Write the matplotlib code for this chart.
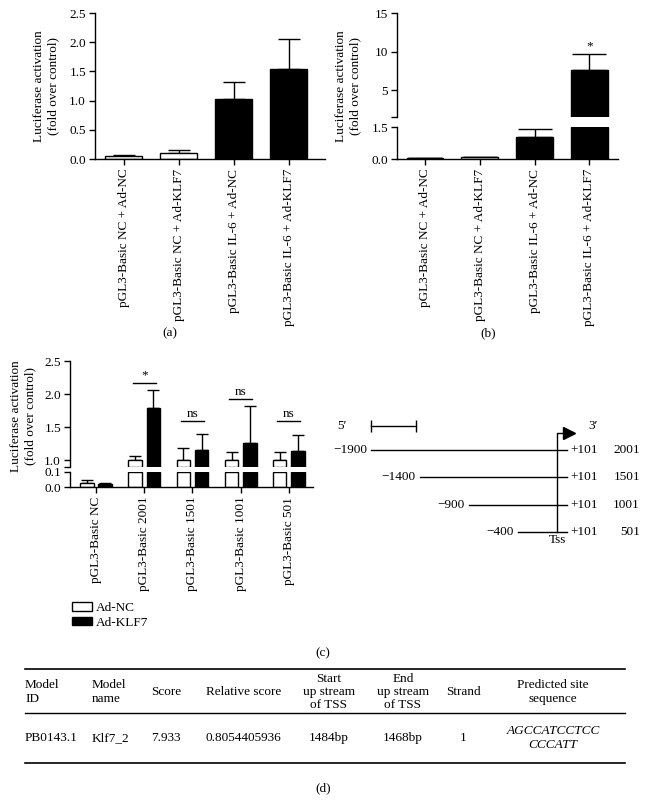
import matplotlib
matplotlib.use("Agg")
import matplotlib.pyplot as plt
import numpy as np
from matplotlib.patches import Patch
from matplotlib.lines import Line2D
import matplotlib.transforms as mtrans

# ---- data ----
a_labels = ["pGL3-Basic NC + Ad-NC", "pGL3-Basic NC + Ad-KLF7",
            "pGL3-Basic IL-6 + Ad-NC", "pGL3-Basic IL-6 + Ad-KLF7"]
a_means = [0.05, 0.11, 1.02, 1.54]
a_err = [0.01, 0.04, 0.30, 0.52]
a_colors = ["white", "white", "black", "black"]

b_means = [0.05, 0.08, 1.03, 7.6]
b_err = [0.01, 0.02, 0.38, 2.05]
b_sig = ["", "", "", "*"]

c_labels = ["pGL3-Basic NC", "pGL3-Basic 2001", "pGL3-Basic 1501",
            "pGL3-Basic 1001", "pGL3-Basic 501"]
c_nc = [0.027, 1.0, 1.0, 1.0, 1.0]
c_nc_err = [0.018, 0.065, 0.18, 0.13, 0.13]
c_klf = [0.023, 1.79, 1.16, 1.26, 1.14]
c_klf_err = [0.007, 0.27, 0.24, 0.56, 0.25]
c_sig = ["", "*", "ns", "ns", "ns"]
c_sig_y = [np.nan, 2.17, 1.59, 1.92, 1.59]

frag_starts = [-1900, -1400, -900, -400]
frag_end = 101
frag_names = ["2001", "1501", "1001", "501"]

tbl_head = ["Model\nID", "Model\nname", "Score", "Relative score",
            "Start\nup stream\nof TSS", "End\nup stream\nof TSS", "Strand",
            "Predicted site\nsequence"]
tbl_row = ["PB0143.1", "Klf7_2", "7.933", "0.8054405936", "1484bp", "1468bp",
           "1", "AGCCATCCTCC\nCCCATT"]

ylab = "Luciferase activation\n(fold over control)"

plt.rcParams["font.family"] = ["Liberation Serif", "DejaVu Serif"]
plt.rcParams["font.size"] = 9.5
plt.rcParams["axes.linewidth"] = 1.0
plt.rcParams["xtick.major.width"] = 1.0
plt.rcParams["ytick.major.width"] = 1.0
plt.rcParams["xtick.major.size"] = 4
plt.rcParams["ytick.major.size"] = 4
plt.rcParams["xtick.major.pad"] = 3
plt.rcParams["ytick.major.pad"] = 2.5

W, H = 647, 807
fig = plt.figure(figsize=(W / 100, H / 100), dpi=100)


def px_axes(l, t, r, b):
    return fig.add_axes([l / W, 1 - b / H, (r - l) / W, (b - t) / H])


def style(ax, bottom=True):
    ax.spines["top"].set_visible(False)
    ax.spines["right"].set_visible(False)
    if not bottom:
        ax.spines["bottom"].set_visible(False)
        ax.tick_params(axis="x", bottom=False, labelbottom=False)


def fmt1(v):
    return "%.1f" % v


# ---- (a) ----
ax = px_axes(95, 13, 325, 159)
style(ax)
xa = np.arange(len(a_means))
ax.bar(xa, a_means, width=0.67, color=a_colors, edgecolor="black", linewidth=1, zorder=2)
ax.errorbar(xa, a_means, yerr=[np.zeros(4), a_err], fmt="none", ecolor="black",
            elinewidth=1, capsize=8, capthick=1, zorder=1)
ax.set_xlim(-0.52, 3.66)
ax.set_ylim(0, 2.5)
ax.set_yticks(np.arange(0, 2.51, 0.5))
ax.set_yticklabels([fmt1(v) for v in np.arange(0, 2.51, 0.5)])
ax.set_xticks(xa)
ax.set_xticklabels(a_labels, rotation=90)
fig.text(46 / W, 1 - 86 / H, ylab, rotation=90, ha="center", va="center")
fig.text(170 / W, 1 - 333 / H, "(a)", ha="center", va="center")

# ---- (b) broken axis ----
b_lo_top, b_hi_bot = 1.5, 1.5
bl = px_axes(397, 127, 618, 159)
bh = px_axes(397, 13, 618, 117)
style(bl)
style(bh, bottom=False)
xb = np.arange(len(b_means))
bm = np.array(b_means)
be = np.array(b_err)
bl.bar(xb, np.minimum(bm, b_lo_top), width=0.67, color=a_colors, edgecolor="black",
       linewidth=1, zorder=2)
hi = bm > b_hi_bot
bh.bar(xb[hi], bm[hi] - b_hi_bot, bottom=b_hi_bot, width=0.67, color="black",
       edgecolor="black", linewidth=1, zorder=2)
tops = bm + be
for axx, mask in ((bl, tops <= b_lo_top), (bh, tops > b_hi_bot)):
    axx.errorbar(xb[mask], bm[mask], yerr=[np.zeros(mask.sum()), be[mask]], fmt="none",
                 ecolor="black", elinewidth=1, capsize=12, capthick=1, zorder=1)
for i, s in enumerate(b_sig):
    if s:
        bh.text(xb[i], tops[i] + 0.3, s, ha="center", va="bottom")
for axx in (bl, bh):
    axx.set_xlim(-0.51, 3.52)
bl.set_ylim(0, b_lo_top)
bh.set_ylim(b_hi_bot, 15)
bl.set_yticks([0, 1.5])
bl.set_yticklabels(["0.0", "1.5"])
bh.set_yticks([b_hi_bot, 5, 10, 15])
bh.set_yticklabels(["", "5", "10", "15"])
bl.set_xticks(xb)
bl.set_xticklabels(a_labels, rotation=90)
fig.text(348 / W, 1 - 86 / H, ylab, rotation=90, ha="center", va="center")
fig.text(488 / W, 1 - 333 / H, "(b)", ha="center", va="center")

# ---- (c) grouped broken axis ----
c_lo_top, c_hi_bot = 0.1, 0.9
cl = px_axes(70, 472, 313, 487)
ch = px_axes(70, 361, 313, 467)
style(cl)
style(ch, bottom=False)
xc = np.arange(len(c_labels))
bw, off = 0.28, 0.19
for vals, errs, col, dx in ((c_nc, c_nc_err, "white", -off), (c_klf, c_klf_err, "black", off)):
    v = np.array(vals)
    e = np.array(errs)
    cl.bar(xc + dx, np.minimum(v, c_lo_top), width=bw, color=col, edgecolor="black",
           linewidth=1, zorder=2)
    m = v > c_hi_bot
    ch.bar(xc[m] + dx, v[m] - c_hi_bot, bottom=c_hi_bot, width=bw, color=col,
           edgecolor="black", linewidth=1, zorder=2)
    lo_m = (v + e) <= c_lo_top
    cl.errorbar(xc[lo_m] + dx, v[lo_m], yerr=[np.zeros(lo_m.sum()), e[lo_m]], fmt="none",
                ecolor="black", elinewidth=1, capsize=4, capthick=1, zorder=1)
    ch.errorbar(xc[m] + dx, v[m], yerr=[np.zeros(m.sum()), e[m]], fmt="none",
                ecolor="black", elinewidth=1, capsize=4, capthick=1, zorder=1)
for i, s in enumerate(c_sig):
    if s:
        ch.plot([xc[i] - 0.24, xc[i] + 0.24], [c_sig_y[i]] * 2, color="black", lw=1)
        ch.text(xc[i], c_sig_y[i] + 0.02, s, ha="center", va="bottom")
for axx in (cl, ch):
    axx.set_xlim(-0.54, 4.5)
cl.set_ylim(0, c_lo_top)
ch.set_ylim(c_hi_bot, 2.5)
cl.set_yticks([0, 0.1])
cl.set_yticklabels(["0.0", "0.1"])
ch.set_yticks([c_hi_bot, 1.0, 1.5, 2.0, 2.5])
ch.set_yticklabels(["", "1.0", "1.5", "2.0", "2.5"])
cl.set_xticks(xc)
cl.set_xticklabels(c_labels, rotation=90)
fig.text(23 / W, 1 - 416 / H, ylab, rotation=90, ha="center", va="center")
fig.legend(handles=[Patch(facecolor="white", edgecolor="black"),
                    Patch(facecolor="black", edgecolor="black")],
           labels=["Ad-NC", "Ad-KLF7"], loc="upper left",
           bbox_to_anchor=(72 / W, 1 - 602 / H), frameon=False, handlelength=1.5,
           handleheight=0.6, labelspacing=0.2, handletextpad=0.3, borderpad=0,
           borderaxespad=0)
fig.text(323 / W, 1 - 653 / H, "(c)", ha="center", va="center")

# ---- (c) promoter fragment diagram ----
dg = px_axes(330, 410, 647, 560)
dg.set_axis_off()
dg.set_xlim(-2318, 917)
dg.set_ylim(4.02, -1.46)
pt = mtrans.offset_copy
for i, s in enumerate(frag_starts):
    dg.plot([s, frag_end], [i, i], color="black", lw=1)
    dg.text(s, i, "\u2212%d" % abs(s), ha="right", va="center",
            transform=pt(dg.transData, fig=fig, x=-4, y=0, units="dots"))
    dg.text(frag_end, i, "+%d" % frag_end, ha="left", va="center",
            transform=pt(dg.transData, fig=fig, x=3, y=0, units="dots"))
    dg.text(0.978, i, frag_names[i], ha="right", va="center",
            transform=mtrans.blended_transform_factory(dg.transAxes, dg.transData))
# Tss arrow
dg.plot([0, 0, 60], [len(frag_starts) - 1, -0.62, -0.62], color="black", lw=1)
dg.plot([120], [-0.62], marker=">", ms=9, color="black")
dg.text(0, len(frag_starts) - 1, "Tss", ha="center", va="top",
        transform=pt(dg.transData, fig=fig, x=0, y=-2, units="dots"))
# scale bar
dg.plot([-1900, -1440], [-0.88, -0.88], color="black", lw=1, marker="|", ms=9, mew=1)
dg.text(0.038, -0.88, "5\u2032", ha="center", va="center",
        transform=mtrans.blended_transform_factory(dg.transAxes, dg.transData))
dg.text(0.83, -0.88, "3\u2032", ha="center", va="center",
        transform=mtrans.blended_transform_factory(dg.transAxes, dg.transData))

# ---- (d) table ----
head_x = [25, 92, 151, 206, 329, 403, 463, 553]
head_ha = ["left", "left", "left", "left", "center", "center", "center", "center"]
for txt, x, ha in zip(tbl_head, head_x, head_ha):
    fig.text(x / W, 1 - 692 / H, txt, ha=ha, va="center",
             multialignment="center" if ha == "center" else "left", linespacing=1.12)
for j, (txt, x, ha) in enumerate(zip(tbl_row, head_x, head_ha)):
    fig.text(x / W, 1 - 738 / H, txt, ha=ha, va="center", linespacing=1.25,
             style="italic" if j == len(tbl_row) - 1 else "normal")
for yy, lw in ((669, 1.2), (713, 1.0), (763, 1.2)):
    fig.add_artist(Line2D([25 / W, 625 / W], [1 - yy / H, 1 - yy / H], color="black", lw=lw))
fig.text(323 / W, 1 - 788 / H, "(d)", ha="center", va="center")

fig.savefig("out.png", dpi=100)
